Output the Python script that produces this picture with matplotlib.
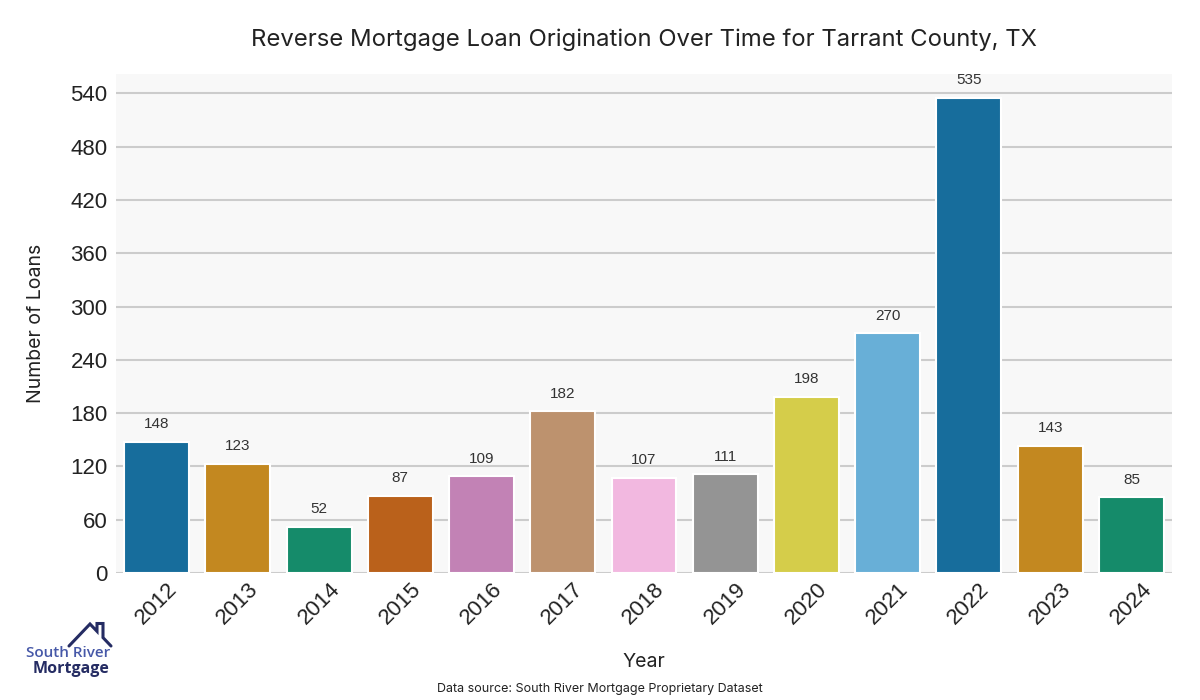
#
# Imports
#
import pandas as pd
import seaborn as sns
import matplotlib
matplotlib.use("Agg")
import matplotlib.pyplot as plt
from matplotlib.lines import Line2D

# Data
years = ["2012", "2013", "2014", "2015", "2016", "2017", "2018",
         "2019", "2020", "2021", "2022", "2023", "2024"]
loans = [148, 123, 52, 87, 109, 182, 107, 111, 198, 270, 535, 143, 85]
yticks = [0, 60, 120, 180, 240, 300, 360, 420, 480, 540]

TITLE_FONT = ["Inter", "DejaVu Sans"]
BODY_FONT = ["Liberation Sans", "DejaVu Sans"]

#
# Plot
#
def plotresults(df):
    sns.set_style("whitegrid", {"axes.facecolor": "#f8f8f8", "grid.color": "#cccccc"})
    plt.rcParams["font.family"] = BODY_FONT

    fig = plt.figure(figsize=(12, 7), dpi=100)
    ax = fig.add_axes([116 / 1200, 1 - 573 / 700, (1172 - 116) / 1200, (573 - 74) / 700])

    # palette of 10 colours cycles over 13 years
    pal = sns.color_palette("colorblind", 10)
    colors = [pal[i % 10] for i in range(len(df))]
    sns.barplot(data=df, x="year", y="loans", hue="year", palette=colors,
                legend=False, ax=ax, edgecolor="white", linewidth=1.5,
                saturation=0.75, width=0.8)

    # value labels
    for i, v in enumerate(df["loans"]):
        ax.text(i, v + 12, str(v), ha="center", va="bottom", fontsize=11, color="#333333")

    ax.set_ylim(0, max(df["loans"]) * 1.05)
    ax.set_yticks(yticks)
    ax.tick_params(axis="y", labelsize=16, colors="#222222", length=0, pad=6)
    ax.tick_params(axis="x", labelsize=16, colors="#222222", length=0, pad=4)
    for lbl in ax.get_xticklabels():
        lbl.set_rotation(45)
    ax.grid(axis="x", visible=False)
    ax.grid(axis="y", linewidth=1.5)
    for s in ax.spines.values():
        s.set_visible(False)

    ax.set_xlabel("")
    ax.set_ylabel("Number of Loans", fontsize=14, family=TITLE_FONT, color="#222222", labelpad=18)
    fig.text(644 / 1200, 1 - 40 / 700, "Reverse Mortgage Loan Origination Over Time for Tarrant County, TX",
             ha="center", va="center", fontsize=17.2, family=TITLE_FONT, color="#222222")
    fig.text(644 / 1200, 1 - 662 / 700, "Year", ha="center", va="center",
             fontsize=14, family=TITLE_FONT, color="#222222")
    fig.text(600 / 1200, 1 - 689 / 700, "Data source: South River Mortgage Proprietary Dataset",
             ha="center", va="center", fontsize=9, family=TITLE_FONT, color="#222222")

    # Logo
    navy = "#252c63"
    px = lambda x, y: (x / 1200, 1 - y / 700)
    roof = [px(69, 646), px(90, 624), px(97, 631.3), px(97, 623.5),
            px(103, 623.5), px(103, 637.6), px(111, 646)]
    fig.add_artist(Line2D([p[0] for p in roof], [p[1] for p in roof],
                          color=navy, linewidth=2.2, solid_joinstyle="miter"))
    fig.text(110 / 1200, 1 - 653 / 700, "South River", ha="right", va="center",
             fontsize=11, family=["Open Sans", "DejaVu Sans"], color="#4658a8", fontweight="semibold")
    fig.text(110 / 1200, 1 - 669 / 700, "Mortgage", ha="right", va="center",
             fontsize=11.5, family=["Open Sans", "DejaVu Sans"], color=navy, fontweight="bold")

    fig.savefig("out.png", dpi=100)

###############################################################################
# MAIN
###############################################################################

if __name__ == '__main__':
    df = pd.DataFrame({"year": years, "loans": loans})
    plotresults(df)
